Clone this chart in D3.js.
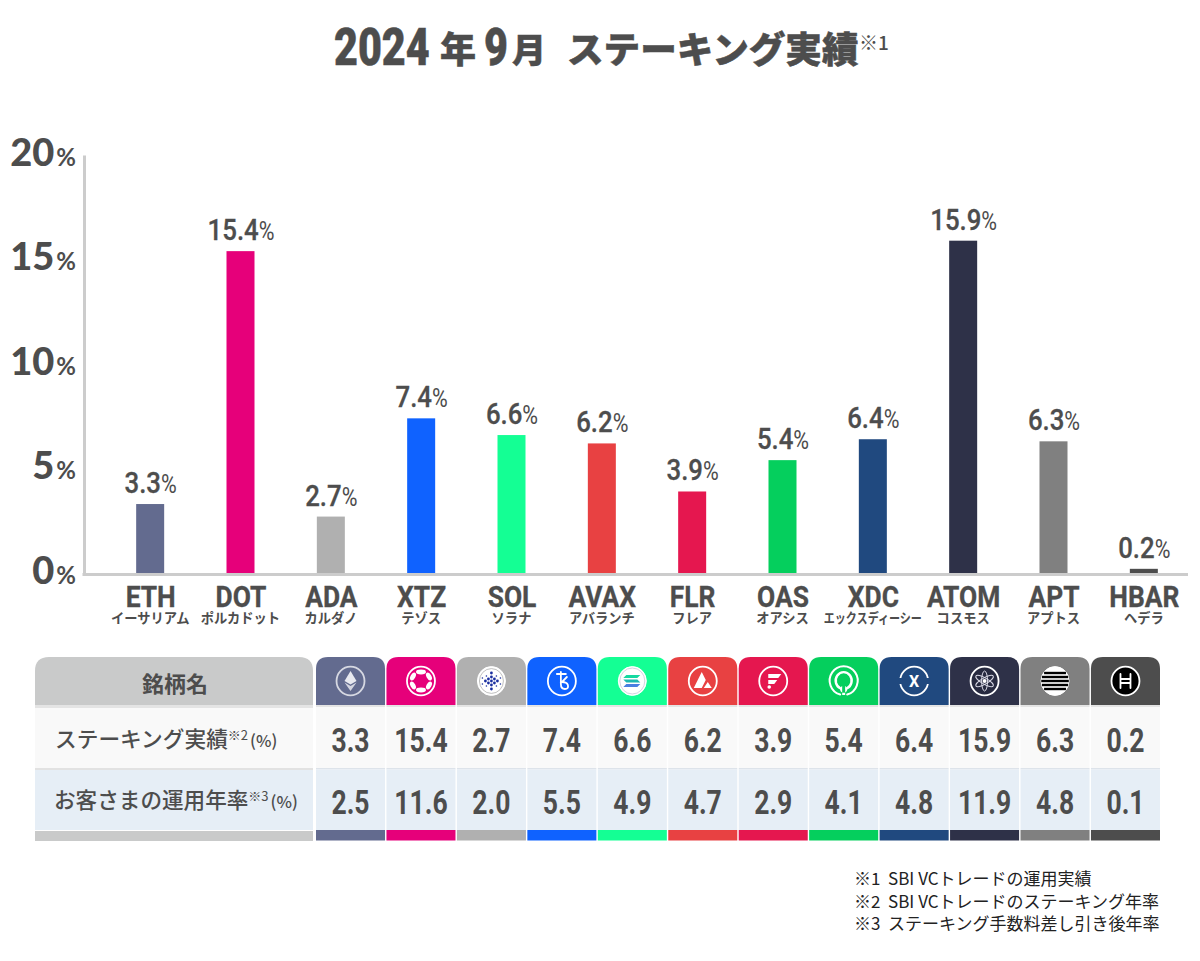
<!DOCTYPE html>
<html><head><meta charset="utf-8">
<script src="https://cdn.jsdelivr.net/npm/d3@7/dist/d3.min.js"></script>
<style>html,body{margin:0;background:#fff}svg{display:block}text{font-family:"Noto Sans CJK JP","Noto Sans",sans-serif}</style>
</head><body><svg id="c" width="1200" height="961"></svg>
<script>
const symbols = ["ETH","DOT","ADA","XTZ","SOL","AVAX","FLR","OAS","XDC","ATOM","APT","HBAR"];
const kana = ["イーサリアム","ポルカドット","カルダノ","テゾス","ソラナ","アバランチ","フレア","オアシス","エックスディーシー","コスモス","アプトス","ヘデラ"];
const staking = [3.3,15.4,2.7,7.4,6.6,6.2,3.9,5.4,6.4,15.9,6.3,0.2];
const customer = [2.5,11.6,2.0,5.5,4.9,4.7,2.9,4.1,4.8,11.9,4.8,0.1];
const colors = ["#636b8f","#e6007a","#b0b0b0","#0f62ff","#14ff94","#e84142","#e5174f","#05cf5d","#20497f","#2e3148","#808080","#4d4d4d"];
const yTicks = [0,5,10,15,20];
const notes = ["※1  SBI VCトレードの運用実績","※2  SBI VCトレードのステーキング年率","※3  ステーキング手数料差し引き後年率"];

const ink = "#4d4d4d", num = 'Roboto,"Noto Sans",sans-serif';
const svg = d3.select("#c");
const x = d3.scaleBand().domain(symbols).range([105,1189]).paddingInner(0.69).paddingOuter(0.345);
const y = d3.scaleLinear().domain([0,20]).range([573,155]);
const col = d3.scaleBand().domain(symbols).range([316,1160]).paddingInner(0.02).paddingOuter(0);

function cond(g, px, py, sx, size, weight, anchor="middle"){
  return g.append("text").attr("transform",`translate(${px},${py}) scale(${sx},1)`)
    .attr("text-anchor",anchor).attr("font-size",size).attr("font-weight",weight).attr("fill",ink);
}

// title
const tg = svg.append("g").attr("stroke",ink).attr("stroke-width",0.5);
cond(tg,334,65,0.81,51,900,"start").style("font-family",num).text("2024");
cond(tg,440,63,1,36,900,"start").text("年");
cond(tg,484,65,0.81,51,900,"start").style("font-family",num).text("9");
cond(tg,512,63,1,34,900,"start").text("月");
cond(tg,567,63,1,36.6,900,"start").text("ステーキング実績");
cond(svg,859,50,1,19,500,"start").text("※1");

// axes
const ax = svg.append("g").attr("transform","translate(84,0)")
  .call(d3.axisLeft(y).tickValues(yTicks).tickSize(0).tickPadding(8).tickFormat(d=>d));
ax.select(".domain").attr("stroke","#ccc").attr("stroke-width",3);
ax.selectAll("text").attr("dy",null).attr("y",10).attr("font-size",38).attr("font-weight",900).attr("fill",ink)
  .style("font-family",'Lato,"Noto Sans",sans-serif').text(null)
  .each(function(d){const s=d3.select(this);s.append("tspan").text(d);
    s.append("tspan").attr("font-size",24).attr("font-weight",700).attr("dx",2).text("%");});
svg.append("line").attr("x1",82.5).attr("x2",1188).attr("y1",y(0)+1.5).attr("y2",y(0)+1.5).attr("stroke","#ccc").attr("stroke-width",3);

// bars
svg.append("g").selectAll("rect").data(symbols).join("rect")
  .attr("x",d=>x(d)).attr("width",x.bandwidth())
  .attr("y",(d,i)=>y(staking[i])).attr("height",(d,i)=>y(0)-y(staking[i]))
  .attr("fill",(d,i)=>colors[i]);

// value and category labels
symbols.forEach((s,i)=>{
  const cx = x(s)+x.bandwidth()/2;
  const l = cond(svg, cx+0.5, y(staking[i])-11, 0.86, 30, 500); l.style("font-family",num).attr("stroke",ink).attr("stroke-width",0.3);
  l.append("tspan").text(staking[i].toFixed(1));
  l.append("tspan").attr("font-size",25).attr("font-weight",400).attr("stroke-width",0).text("%");
  const a = cond(svg, cx+0.5, 607, 0.91, 29, 700); a.style("font-family",num).attr("stroke",ink).attr("stroke-width",0.3).text(s);
  cond(svg, cx, 623, kana[i].length>6?0.79:0.95, 14, 700).text(kana[i]);
});

// table
const rows = [[709,59,"#f9f9f9"],[770,60,"#e6eef6"]];
const rounded = (g,px,py,w,h,r,fill)=>g.append("path").attr("fill",fill)
  .attr("d",`M${px},${py+h}V${py+r}Q${px},${py} ${px+r},${py}H${px+w-r}Q${px+w},${py} ${px+w},${py+r}V${py+h}Z`);
const tb = svg.append("g");
rounded(tb,35,657,278,48,14,"#c9caca");
tb.append("rect").attr("x",35).attr("y",705).attr("width",278).attr("height",3).attr("fill","#e4e4e4");
tb.append("rect").attr("x",35).attr("y",708).attr("width",278).attr("height",60).attr("fill",rows[0][2]);
tb.append("rect").attr("x",35).attr("y",768).attr("width",278).attr("height",2).attr("fill","#e2e2e2");
tb.append("rect").attr("x",35).attr("y",770).attr("width",278).attr("height",60).attr("fill",rows[1][2]);
tb.append("rect").attr("x",35).attr("y",831).attr("width",278).attr("height",10).attr("fill","#c9caca");
tb.append("text").attr("x",175).attr("y",692).attr("text-anchor","middle").attr("font-size",22).attr("font-weight",700).attr("fill",ink).text("銘柄名");

function rowLabel(py,main,sup,px,size){
  const r = tb.append("text").attr("x",px).attr("y",py).attr("font-size",size).attr("font-weight",500).attr("fill",ink);
  r.append("tspan").text(main);
  r.append("tspan").attr("font-size",13).attr("dy",-7).attr("font-weight",400).text(sup);
  r.append("tspan").attr("font-size",16.5).attr("dy",7).attr("dx",2).attr("font-weight",500).text("(%)");
}
rowLabel(747,"ステーキング実績","※2",55,21.7);
rowLabel(808,"お客さまの運用年率","※3",54,21.6);

symbols.forEach((s,i)=>{
  const cx = col(s)+col.bandwidth()/2, w = col.bandwidth(), px = col(s);
  rounded(tb,px,657,w,48,12,colors[i]);
  tb.append("rect").attr("x",px).attr("y",705).attr("width",w).attr("height",2).attr("fill","#e4e4e4");
  tb.append("rect").attr("x",px).attr("y",707).attr("width",w).attr("height",61).attr("fill",rows[0][2]);
  tb.append("rect").attr("x",px).attr("y",768).attr("width",w).attr("height",1.5).attr("fill","#dde3ea");
  tb.append("rect").attr("x",px).attr("y",769.5).attr("width",w).attr("height",60.5).attr("fill",rows[1][2]);
  tb.append("rect").attr("x",px).attr("y",830).attr("width",w).attr("height",10.5).attr("fill",colors[i]);
  cond(tb,cx,752,0.78,34,700).style("font-family",num).text(staking[i].toFixed(1));
  cond(tb,cx,814,0.78,34,700).style("font-family",num).text(customer[i].toFixed(1));
  drawIcon(tb.append("g").attr("transform",`translate(${cx},681)`),s,colors[i]);
});

function drawIcon(g,s,c){
  const ring=(fill,stroke="#fff",sw=1.8,rx=14,ry=14.4)=>g.append("ellipse").attr("rx",rx).attr("ry",ry).attr("fill",fill).attr("stroke",stroke).attr("stroke-width",sw);
  const P=(d,f="#fff",o=1)=>g.append("path").attr("d",d).attr("fill",f).attr("opacity",o);
  const L=(d,st="#fff",sw=2)=>g.append("path").attr("d",d).attr("fill","none").attr("stroke",st).attr("stroke-width",sw).attr("stroke-linecap","round");
  if(s==="ETH"){ring("none","#d6d8e2");P("M0,-10L6,0L0,3.5L-6,0Z","#e8e9ef");P("M0,5L6,1.5L0,10L-6,1.5Z","#d4d6e0");}
  if(s==="DOT"){ring("none");[[0,-9,5,2.4,0],[0,9,5,2.4,0],[-8,-4.5,4.2,2.4,-60],[8,-4.5,4.2,2.4,60],[-8,4.5,4.2,2.4,60],[8,4.5,4.2,2.4,-60]].forEach(e=>g.append("ellipse").attr("transform",`translate(${e[0]},${e[1]}) rotate(${e[4]})`).attr("rx",e[2]).attr("ry",e[3]).attr("fill","#fff"));}
  if(s==="ADA"){ring("#fff","#fff",1);g.append("ellipse").attr("rx",12).attr("ry",12.4).attr("fill","none").attr("stroke","#b0b0b0").attr("stroke-width",0.8);[[0,0],[-3,-2],[3,-2],[-3,2],[3,2],[0,-4],[0,4],[-6,0],[6,0],[-5,-5],[5,-5],[-5,5],[5,5],[0,-8],[0,8],[-9,-3],[9,-3],[-9,3],[9,3]].forEach(e=>g.append("circle").attr("cx",e[0]).attr("cy",e[1]).attr("r",Math.abs(e[0])+Math.abs(e[1])>8?0.8:1.4).attr("fill","#1a2fa0"));}
  if(s==="XTZ"){ring("none");L("M-5,-7H4M-1,-9V3Q-1,8 3,8Q7,8 6,4Q5,1 0,1L5,-4",'#fff',1.8);}
  if(s==="SOL"){ring("#fff","#fff",1);g.append("ellipse").attr("rx",12.5).attr("ry",13).attr("fill","none").attr("stroke","#c8c8d8").attr("stroke-width",0.8);P("M-6,-6H8L5,-3H-9Z","#14d9a0");P("M-9,-1.5H5L8,1.5H-6Z","#20b8b0");P("M-6,3H8L5,6H-9Z","#4a7fe0");}
  if(s==="AVAX"){ring("none");P("M-1,-9L-9,7H-1L3,-1Z");P("M5,1L9,7H1Z");}
  if(s==="FLR"){ring("none");P("M-5,-7H8L5,-3H-5Z");P("M-5,-1H4L1,3H-5Z");g.append("circle").attr("cx",-4).attr("cy",6).attr("r",1.8).attr("fill","#fff");}
  if(s==="OAS"){L("M-3.5,13.5A14,14.4 0 1 1 3.5,13.5",'#fff',2);L("M-3,7.5A8,8.5 0 1 1 3,7.5",'#fff',2.4);P("M-1.5,14V5A3.6,3.6 0 1 0 1.5,5V14Z");}
  if(s==="XDC"){ring("none");g.append("text").attr("y",6).attr("text-anchor","middle").attr("font-size",16).attr("font-weight",700).attr("fill","#fff").style("font-family",num).text("X");g.append("rect").attr("x",-16).attr("y",-3).attr("width",4).attr("height",6).attr("fill",c);g.append("rect").attr("x",12).attr("y",-3).attr("width",4).attr("height",6).attr("fill",c);}
  if(s==="ATOM"){ring("#272a40");[0,60,120].forEach(a=>g.append("ellipse").attr("transform",`rotate(${a})`).attr("rx",3).attr("ry",10).attr("fill","none").attr("stroke","#d8d8e4").attr("stroke-width",1));g.append("circle").attr("r",2).attr("fill","#fff");}
  if(s==="APT"){ring("#fff","#fff",1);[-8,-4,0,4,8].forEach(v=>{const h=Math.sqrt(190-v*v*1.1);g.append("rect").attr("x",-h).attr("y",v-1.2).attr("width",2*h).attr("height",2.4).attr("fill","#000");});}
  if(s==="HBAR"){ring("#000");L("M-5,-7V7M5,-7V7M-5,-2H5M-5,2H5",'#fff',1.8);}
}

// footnotes
svg.append("g").selectAll("text").data(notes).join("text")
  .attr("x",854).attr("y",(d,i)=>885+i*22.5).attr("font-size",17).attr("font-weight",400).attr("fill","#222").style("white-space","pre").text(d=>d);
</script></body></html>
